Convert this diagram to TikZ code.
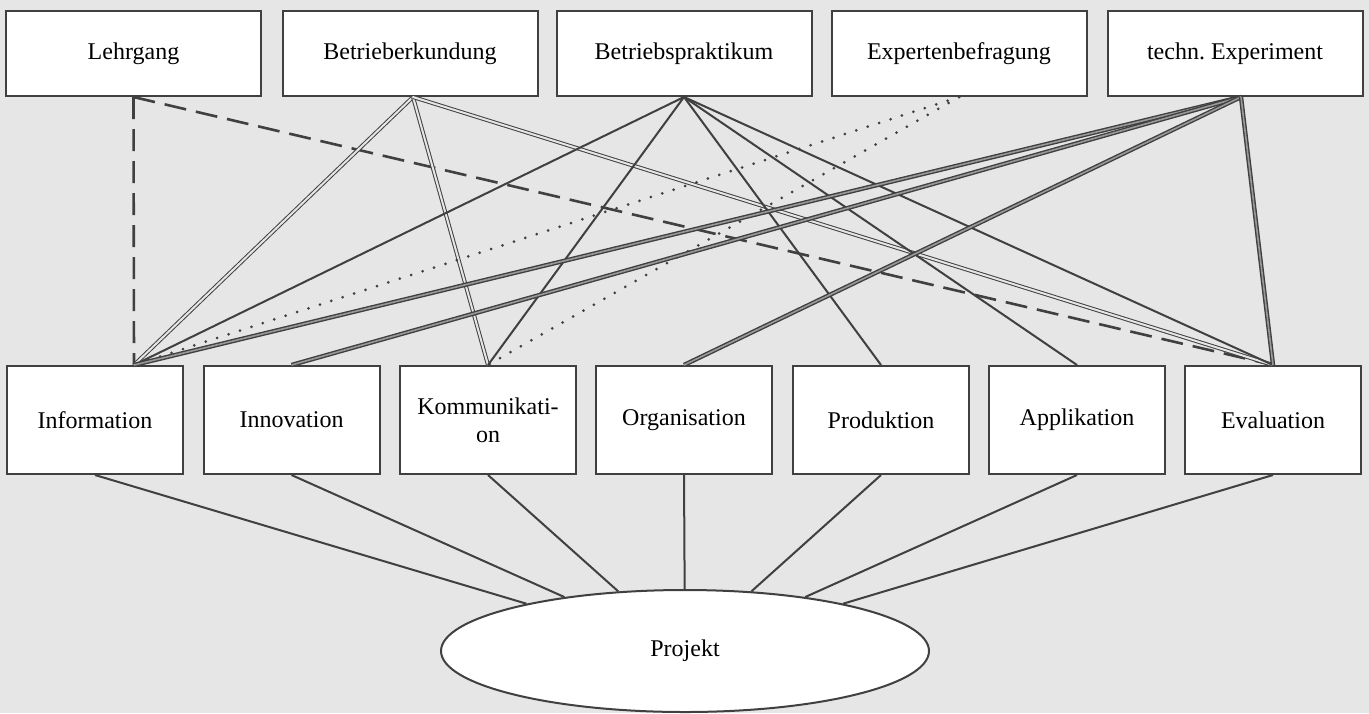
\documentclass[tikz,border=0pt]{standalone}
\usepackage{fontspec}
\setmainfont{Liberation Serif}
\usetikzlibrary{shapes.geometric}
\definecolor{hinter}{HTML}{E6E6E6}
\definecolor{rahmen}{HTML}{404040}

\begin{document}
\begin{tikzpicture}[x=0.5pt,y=-0.5pt,every node/.style={align=center,font=\fontsize{12}{14}\selectfont},
    oben/.style={draw=rahmen,fill=white,line width=1pt,minimum width=127.5pt,minimum height=42.5pt,inner sep=0pt},
    unten/.style={draw=rahmen,fill=white,line width=1pt,minimum width=88pt,minimum height=54pt,inner sep=0pt},
    linie/.style={draw=rahmen,line width=1pt},
    gestrichelt/.style={linie,line width=1.3pt,dash pattern=on 11pt off 5pt},
    gepunktet/.style={draw=rahmen,line width=1.5pt,dash pattern=on 0pt off 6pt,line cap=round},
    doppelt/.style={draw=rahmen,line width=0.5pt,double=hinter,double distance=1pt},
    dicht/.style={draw=rahmen,line width=0.7pt,double=gray!80,double distance=0.8pt}]
    \fill[hinter] (0,0) rectangle (1369,713);
    % obere Reihe
    \node[oben] (lehr) at (133.5,53.5) {Lehrgang};
    \node[oben] (erk) at (410,53.5) {Betrieberkundung};
    \node[oben] (prak) at (684,53.5) {Betriebspraktikum};
    \node[oben] (exp) at (959,53.5) {Expertenbefragung};
    \node[oben] (tech) at (1235,53.5) {techn.\ Experiment};
    % untere Reihe
    \node[unten] (info) at (95,420) {Information};
    \node[unten] (inno) at (291.5,420) {Innovation};
    \node[unten] (komm) at (488,420) {Kommunikati-\\on};
    \node[unten] (orga) at (684,420) {Organisation};
    \node[unten] (prod) at (881,420) {Produktion};
    \node[unten] (appl) at (1077,420) {Applikation};
    \node[unten] (eval) at (1273,420) {Evaluation};
    \node[ellipse,draw=rahmen,fill=white,line width=1pt,minimum width=244pt,minimum height=61pt,inner sep=0pt] (proj) at (685,651) {Projekt};
    \coordinate (infoA) at ([xshift=19.5pt]info.north);
    \coordinate (techA) at ([xshift=3pt]tech.south);
    \coordinate (erkA) at ([xshift=1.5pt]erk.south);
    % Verbindungen
    \draw[gestrichelt] (lehr.south) -- (infoA);
    \draw[gestrichelt] (lehr.south) -- (eval.north);
    \draw[doppelt] (erkA) -- (infoA);
    \draw[doppelt] (erkA) -- (komm.north);
    \draw[doppelt] (erkA) -- (eval.north);
    \foreach \z in {infoA,komm.north,prod.north,appl.north,eval.north}
        \draw[linie] (prak.south) -- (\z);
    \draw[gepunktet] (exp.south) -- (infoA);
    \draw[gepunktet] (exp.south) -- (komm.north);
    \foreach \z in {infoA,inno.north,orga.north,eval.north}
        \draw[dicht] (techA) -- (\z);
    \foreach \z in {info,inno,komm,orga,prod,appl,eval}
        \draw[linie] (\z.south) -- (proj);
\end{tikzpicture}
\end{document}
